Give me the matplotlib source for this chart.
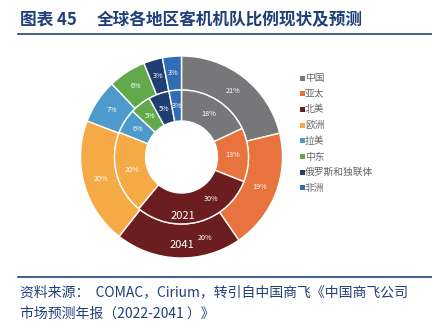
import matplotlib
matplotlib.use("Agg")
import matplotlib.pyplot as plt
import numpy as np

plt.rcParams['font.family'] = ['Noto Sans CJK SC', 'DejaVu Sans']

regions = ['中国', '亚太', '北美', '欧洲', '拉美', '中东', '俄罗斯和独联体', '非洲']
share_2021 = [18, 13, 30, 20, 6, 5, 5, 3]
share_2041 = [21, 19, 20, 20, 7, 6, 3, 3]
colors = ['#77777a', '#e9733f', '#6b1d20', '#f5aa45', '#4d9acb', '#62a94c', '#1f3e72', '#2f6db5']

W, H = 432, 322
fig = plt.figure(figsize=(W / 100, H / 100), dpi=100)
navy = '#1f3f7a'

# header
fig.text(20 / W, 1 - 20 / H, '图表 45', fontsize=12,
         fontweight='bold', color=navy, va='center', ha='left')
fig.text(97 / W, 1 - 20 / H, '全球各地区客机机队比例现状及预测', fontsize=12,
         fontweight='bold', color=navy, va='center', ha='left')
fig.add_artist(plt.Line2D([18 / W, 1], [1 - 34 / H, 1 - 34 / H], color=navy, lw=1.2))

# donut
cx, cy, half = 181.5, 157, 110
ax = fig.add_axes([(cx - half) / W, (H - cy - half) / H, 2 * half / W, 2 * half / H])

r_out, r_mid, r_hole = 1.01, 0.67, 0.36
wp = dict(edgecolor='white', linewidth=1.0)
ax.pie(share_2041, radius=r_out, colors=colors, startangle=90, counterclock=False,
       wedgeprops=dict(width=r_out - r_mid, **wp))
ax.pie(share_2021, radius=r_mid, colors=colors, startangle=90, counterclock=False,
       wedgeprops=dict(width=r_mid - r_hole, **wp))
ax.set_xlim(-1.1, 1.1)
ax.set_ylim(-1.1, 1.1)
ax.set_aspect('equal')
ax.axis('off')


def ring_labels(values, radius, shift=None):
    shift = shift or {}
    total = sum(values)
    start = 90.0
    for i, v in enumerate(values):
        mid = start - 360.0 * v / total / 2 + shift.get(i, 0)
        ang = np.deg2rad(mid)
        ax.text(radius * np.cos(ang), radius * np.sin(ang), f'{v}%', color='white',
                fontsize=5.2, ha='center', va='center')
        start -= 360.0 * v / total


# the 北美 labels sit off-centre so they clear the year captions
ring_labels(share_2041, (r_out + r_mid) / 2, shift={2: 18})
ring_labels(share_2021, (r_mid + r_hole) / 2, shift={2: 21})
ax.text(0.015, -0.59, '2021', color='white', fontsize=8, ha='center', va='center')
ax.text(0.005, -0.88, '2041', color='white', fontsize=8, ha='center', va='center')

# legend
for i, (name, c) in enumerate(zip(regions, colors)):
    y = 78 + i * 15.7
    fig.add_artist(plt.Rectangle((300 / W, 1 - (y + 2.5) / H), 5 / W, 5 / H,
                                 facecolor=c, edgecolor='none'))
    fig.text(305 / W, 1 - y / H, name, fontsize=7, color='#666666', va='center', ha='left')

# footer
fig.add_artist(plt.Line2D([18 / W, 1], [1 - 277 / H, 1 - 277 / H], color=navy, lw=1.2))
fig.text(20 / W, 1 - 292 / H, '资料来源：  COMAC，Cirium，转引自中国商飞《中国商飞公司',
         fontsize=10, color=navy, style='italic', va='center', ha='left')
fig.text(20 / W, 1 - 314 / H, '市场预测年报（2022-2041 ）》',
         fontsize=10, color=navy, style='italic', va='center', ha='left')

fig.savefig('out.png', dpi=100)
